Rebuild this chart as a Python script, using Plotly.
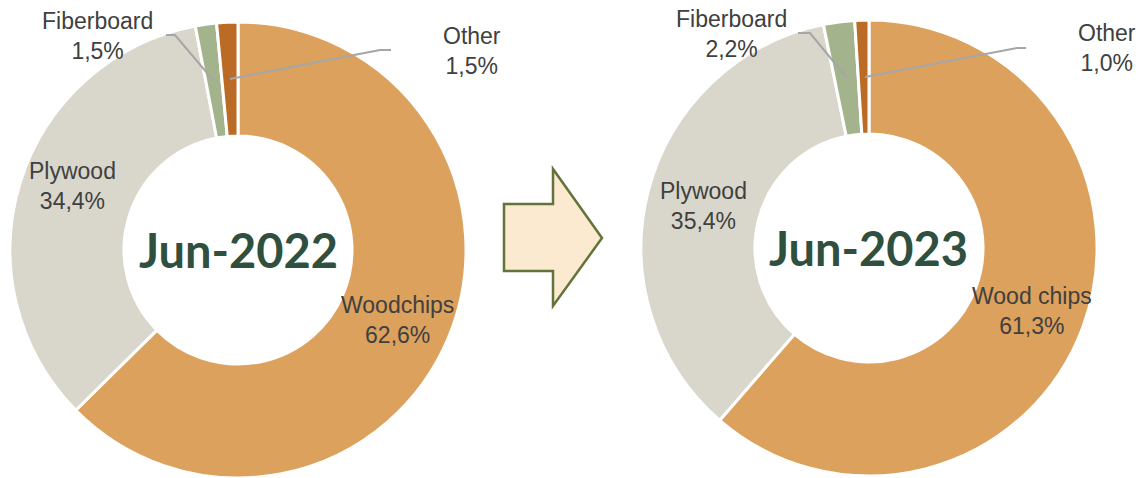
import plotly.graph_objects as go

# data (shares, %)
categories = ["Woodchips", "Plywood", "Fiberboard", "Other"]
labels_2023 = ["Wood chips", "Plywood", "Fiberboard", "Other"]
share_2022 = [62.6, 34.4, 1.5, 1.5]
share_2023 = [61.3, 35.4, 2.2, 1.0]
periods = ["Jun-2022", "Jun-2023"]

COLORS = ["#DCA15D", "#D9D7CB", "#A3B38B", "#BB6B26"]
TXT = "#404040"
W, H = 1142, 478


def px_x(x):
    return x / W


def px_y(y):
    return 1 - y / H


def pct(v):
    return f"{v:.1f}%".replace(".", ",")


fig = go.Figure()
domains = [
    dict(x=[px_x(10), px_x(466)], y=[px_y(478), px_y(22)]),
    dict(x=[px_x(641), px_x(1097)], y=[px_y(476), px_y(20)]),
]
for names, vals, dom in zip([categories, labels_2023], [share_2022, share_2023], domains):
    fig.add_trace(go.Pie(
        labels=names, values=vals, domain=dom, hole=0.5,
        sort=False, direction="clockwise", rotation=0,
        marker=dict(colors=COLORS, line=dict(color="white", width=3)),
        textinfo="none", hoverinfo="label+percent", showlegend=False,
    ))

# label positions (pixel centres) for each category, per chart
label_pos = [
    [(397, 320), (72, 186), (97, 36), (472, 51)],
    [(1032, 311), (703, 206), (731, 34), (1107, 48)],
]
annotations = []
for names, vals, pos in zip([categories, labels_2023], [share_2022, share_2023], label_pos):
    for n, v, (x, y) in zip(names, vals, pos):
        annotations.append(dict(
            x=px_x(x), y=px_y(y), xref="paper", yref="paper",
            text=f"{n}<br>{pct(v)}", showarrow=False,
            font=dict(family="Liberation Sans, Arial", size=23, color=TXT),
            xanchor="center", yanchor="middle",
        ))

# centre titles
for p, cx, cy in zip(periods, [238, 868], [250, 248]):
    annotations.append(dict(
        x=px_x(cx), y=px_y(cy), xref="paper", yref="paper", text=f"<b>{p}</b>",
        showarrow=False, font=dict(family="Lato", size=47, color="#2F4F3F"),
        xanchor="center", yanchor="middle",
    ))

shapes = []
# leader lines for small slices
leaders = [
    [(166, 35), (175, 35), (213, 80)],
    [(230, 79), (380, 50), (391, 50)],
    [(798, 33), (810, 33), (847, 78)],
    [(865, 77), (1017, 48), (1026, 48)],
]
for pts in leaders:
    path = "M " + " L ".join(f"{px_x(x):.5f},{px_y(y):.5f}" for x, y in pts)
    shapes.append(dict(type="path", xref="paper", yref="paper", path=path,
                       line=dict(color="#A6A6A6", width=2)))

# arrow between the charts
arrow = [(504, 204), (553, 204), (553, 169), (602, 238), (553, 306), (553, 271), (504, 271)]
shapes.append(dict(
    type="path", xref="paper", yref="paper",
    path="M " + " L ".join(f"{px_x(x):.5f},{px_y(y):.5f}" for x, y in arrow) + " Z",
    fillcolor="#FBE9D0", line=dict(color="#637339", width=2.5),
))

fig.update_layout(
    width=W, height=H,
    margin=dict(t=0, b=0, l=0, r=0),
    paper_bgcolor="white", plot_bgcolor="white",
    annotations=annotations, shapes=shapes,
)
fig.write_html(
    "out.html",
    config={"displayModeBar": False},
    post_script="document.body.style.margin='0';document.body.style.overflow='hidden';",
)
